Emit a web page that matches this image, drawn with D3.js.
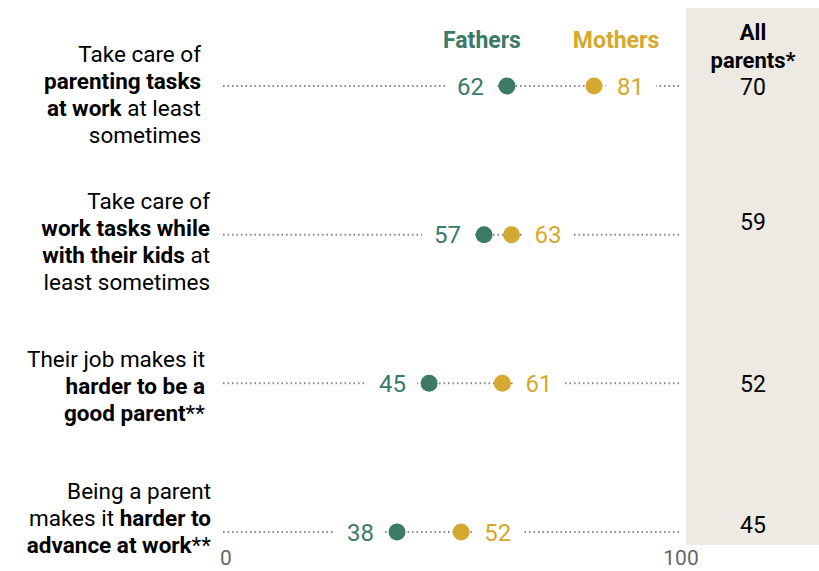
<!DOCTYPE html>
<html>
<head>
<meta charset="utf-8">
<script src="https://cdn.jsdelivr.net/npm/d3@7.9.0/dist/d3.min.js"></script>
<style>
  body { margin: 0; background: #fff; }
  svg { font-family: Roboto, "Liberation Sans", sans-serif; }
</style>
</head>
<body>
<svg id="chart" width="819" height="571"></svg>
<script>
// Category labels: each line is a list of [text, bold] pieces
const categories = [
  [[['Take care of', false]], [['parenting tasks', true]], [['at work', true], [' at least', false]], [['sometimes', false]]],
  [[['Take care of', false]], [['work tasks while', true]], [['with their kids', true], [' at', false]], [['least sometimes', false]]],
  [[['Their job makes it', false]], [['harder to be a', true]], [['good parent', true], ['**', false]]],
  [[['Being a parent', false]], [['makes it ', false], ['harder to', true]], [['advance at work', true], ['**', false]]]
];
const fathers = [62, 57, 45, 38];
const mothers = [81, 63, 61, 52];
const allParents = [70, 59, 52, 45];
const xTicks = [0, 100];

// layout tweaks (px) to follow the original placement
const labelShift = [9, 7, 3, -14];
const labelRight = [201, 210, 205, 211];
const panelShift = [1, -13, 0, -7];

const green = '#3a7a67';
const gold = '#d5a82f';

const svg = d3.select('#chart');

const x = d3.scaleLinear().domain([0, 100]).range([223, 681]);
const y = d3.scalePoint().domain(d3.range(categories.length)).range([86, 532]);

// all parents panel
svg.append('rect')
  .attr('x', 686).attr('y', 8)
  .attr('width', 133).attr('height', 537)
  .attr('fill', '#edeae3');

// headers
svg.append('text').attr('x', 482).attr('y', 48)
  .attr('text-anchor', 'middle').attr('font-size', 23).attr('font-weight', 700)
  .attr('fill', green).text('Fathers');
svg.append('text').attr('x', 616).attr('y', 48)
  .attr('text-anchor', 'middle').attr('font-size', 23).attr('font-weight', 700)
  .attr('fill', gold).text('Mothers');
svg.append('text').attr('x', 753).attr('y', 40)
  .attr('text-anchor', 'middle').attr('font-size', 22).attr('font-weight', 700)
  .attr('fill', '#000').text('All');
svg.append('text').attr('x', 753).attr('y', 68)
  .attr('text-anchor', 'middle').attr('font-size', 22).attr('font-weight', 700)
  .attr('fill', '#000').text('parents*');

const rows = svg.selectAll('g.row')
  .data(categories)
  .join('g')
  .attr('class', 'row');

// dotted line across the whole scale
rows.append('line')
  .attr('x1', x(0)).attr('x2', x(100))
  .attr('y1', (d, i) => y(i)).attr('y2', (d, i) => y(i))
  .attr('stroke', '#8a8a8a')
  .attr('stroke-width', 2)
  .attr('stroke-dasharray', '1.6 2.9');

// left labels
rows.each(function(lines, i) {
  const lh = 27;
  const top = y(i) + labelShift[i] - (lines.length - 1) * lh / 2;
  const g = d3.select(this);
  lines.forEach((pieces, j) => {
    const t = g.append('text')
      .attr('x', labelRight[i])
      .attr('y', top + j * lh)
      .attr('dy', '0.35em')
      .attr('text-anchor', 'end')
      .attr('font-size', 22.5)
      .attr('fill', '#000');
    pieces.forEach(([txt, bold]) => {
      t.append('tspan')
        .attr('font-weight', bold ? 700 : 400)
        .style('white-space', 'pre')
        .text(txt);
    });
  });
});

// white gaps behind value labels
rows.append('rect')
  .attr('x', (d, i) => x(fathers[i]) - 62)
  .attr('y', (d, i) => y(i) - 8)
  .attr('width', 50)
  .attr('height', 16)
  .attr('fill', '#fff');
rows.append('rect')
  .attr('x', (d, i) => x(mothers[i]) + 12)
  .attr('y', (d, i) => y(i) - 8)
  .attr('width', 50)
  .attr('height', 16)
  .attr('fill', '#fff');

rows.append('text')
  .attr('x', (d, i) => x(fathers[i]) - 23)
  .attr('y', (d, i) => y(i))
  .attr('dy', '0.36em')
  .attr('text-anchor', 'end')
  .attr('font-size', 24)
  .attr('fill', green)
  .text((d, i) => fathers[i]);

rows.append('text')
  .attr('x', (d, i) => x(mothers[i]) + 23)
  .attr('y', (d, i) => y(i))
  .attr('dy', '0.36em')
  .attr('text-anchor', 'start')
  .attr('font-size', 24)
  .attr('fill', gold)
  .text((d, i) => mothers[i]);

rows.append('circle')
  .attr('cx', (d, i) => x(fathers[i]))
  .attr('cy', (d, i) => y(i))
  .attr('r', 8.5)
  .attr('fill', green);

rows.append('circle')
  .attr('cx', (d, i) => x(mothers[i]))
  .attr('cy', (d, i) => y(i))
  .attr('r', 8.5)
  .attr('fill', gold);

// all parents values
rows.append('text')
  .attr('x', 753)
  .attr('y', (d, i) => y(i) + panelShift[i])
  .attr('dy', '0.36em')
  .attr('text-anchor', 'middle')
  .attr('font-size', 23)
  .attr('fill', '#000')
  .text((d, i) => allParents[i]);

// axis tick labels
svg.selectAll('text.tick')
  .data(xTicks)
  .join('text')
  .attr('class', 'tick')
  .attr('x', d => x(d) + (d === 0 ? 3 : 0))
  .attr('y', 565)
  .attr('text-anchor', 'middle')
  .attr('font-size', 21)
  .attr('fill', '#666')
  .text(d => d);
</script>
</body>
</html>
